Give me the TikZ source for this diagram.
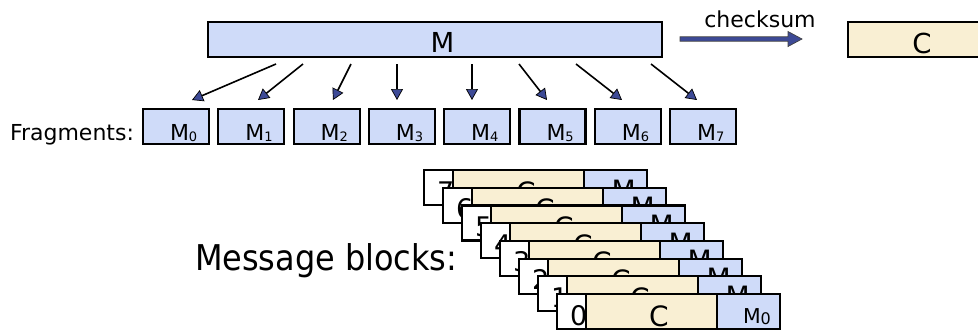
\documentclass[tikz,border=0pt]{standalone}
\usepackage{fontspec}
\setmainfont{DejaVu Sans}
\newfontfamily\narrowsans{DejaVu Sans}[FakeStretch=0.9]
\usetikzlibrary{arrows.meta}

\definecolor{fragblue}{HTML}{CFDBF9}
\definecolor{sumbeige}{HTML}{F9EFD3}
\definecolor{tipblue}{HTML}{3D4A96}

\newcommand\fs[1]{\fontsize{#1}{#1}\selectfont}
% M with a lowered index digit
\newcommand\msub[3]{M\raisebox{#3}{\fs{#2}#1}}

\begin{document}
\begin{tikzpicture}[x=1pt,y=-1pt,
  every node/.style={inner sep=0pt, outer sep=0pt},
  box/.style={rectangle, draw=black, line width=2.2pt, anchor=north west,
              minimum height=35pt},
  txt/.style={anchor=base},
  fragarrow/.style={draw=black, line width=1.6pt,
     -{Triangle[length=11pt,width=12pt,fill=tipblue,line width=0.7pt]}}]

\useasboundingbox (0,0) rectangle (978,333);

% whole message and its checksum
\node[box, fill=fragblue, minimum width=454pt] (M) at (208,22) {};
\node[txt, font=\fs{27.5}] (Mtxt) at (442.5,52) {M};
\node[box, fill=sumbeige, minimum width=150pt] (C) at (848,22) {};
\node[txt, font=\fs{27.5}] (Ctxt) at (922,53) {C};

\node[txt, font=\fs{22}] (cklabel) at (760,27) {checksum};
\coordinate (ckA) at (680,39);
\coordinate (ckB) at (802,39);
\filldraw[fill=tipblue, draw=black!75, line width=0.7pt]
  (ckA) ++(0,-2.2) -- ++(108,0) -- ++(0,-5.3) -- (ckB) -- ++(-14,7.5)
  -- ++(0,-5.3) -- ++(-108,0) -- cycle;

% fragments
\node[anchor=base west, font=\fs{22}] (fraglabel) at (10,140) {Fragments:};
\foreach \i in {0,...,7} {
  \node[box, fill=fragblue, minimum width=66pt] (f\i) at ({143+75.3*\i},109) {};
  \node[anchor=base west, font=\fs{22}] (ft\i) at ({170+75.3*\i},140)
    {\msub{\i}{13}{-1.5pt}};
}

% splitting arrows
\foreach \i/\sx/\ex in {0/276/192, 1/303/258, 2/351/333, 3/397/397,
                        4/472/472, 5/519/547, 6/576/622, 7/651/697} {
  \coordinate (s\i) at (\sx,64);
  \coordinate (e\i) at (\ex,100);
  \draw[fragarrow] (s\i) -- (e\i);
}

% message blocks
\node[anchor=base west, font=\narrowsans\fs{35.5}] (mblabel) at (195,270)
  {Message blocks:};

\foreach \k in {7,...,0} {
  \begin{scope}[shift={({557-19*\k},{294-17.7*\k})}]
    \node[box, fill=white, minimum width=29pt] (n\k) at (0,0) {};
    \node[box, fill=sumbeige, minimum width=131pt] (c\k) at (29,0) {};
    \node[box, fill=fragblue, minimum width=63pt] (m\k) at (160,0) {};
    \node[anchor=base west, font=\fs{27}] (nt\k) at (13,31) {\k};
    \node[txt, font=\fs{28}] (ct\k) at (102,32) {C};
    \ifnum\k>0
      \node[anchor=base west, font=\fs{28}] (mt\k) at (187.5,30)
        {\msub{\k}{17}{-2pt}};
    \else
      \node[anchor=base west, font=\fs{20.5}] (mt\k) at (186,29)
        {\msub{\k}{16}{-1pt}};
    \fi
  \end{scope}
}

\end{tikzpicture}
\end{document}
